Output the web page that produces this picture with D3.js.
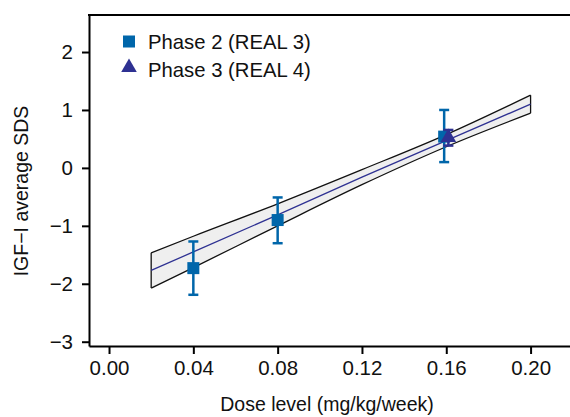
<!DOCTYPE html>
<html lang="en">
<head>
<meta charset="UTF-8">
<script src="https://d3js.org/d3.v7.min.js"></script>
<style>
  body { margin: 0; background: #fff; }
  svg text { font-family: "Liberation Sans", Arial, sans-serif; fill: #111; }
</style>
</head>
<body>
<div id="chart"></div>
<script>
// Phase 2 (REAL 3): dose, mean SDS and error bar ends
const p2Dose = [0.04, 0.08, 0.159];
const p2Mean = [-1.73, -0.90, 0.54];
const p2Low  = [-2.19, -1.30, 0.10];
const p2High = [-1.27, -0.51, 1.00];

// Phase 3 (REAL 4)
const p3Dose = [0.161];
const p3Mean = [0.54];
const p3Low  = [0.385];
const p3High = [0.655];

// fitted line with confidence band
const fitDose  = [0.02, 0.04, 0.08, 0.12, 0.16, 0.20];
const fitMean  = [-1.77, -1.45, -0.81, -0.16, 0.47, 1.10];
const fitUpper = [-1.465, -1.18, -0.62, -0.03, 0.575, 1.255];
const fitLower = [-2.075, -1.72, -1.00, -0.29, 0.365, 0.945];

const xTicks = [0, 0.04, 0.08, 0.12, 0.16, 0.20];
const yTicks = [-3, -2, -1, 0, 1, 2];

const w = 570, h = 417;
const padL = 89, padR = 570, padT = 15, padB = 346;
const blue = '#0066aa', navy = '#2e3192';

const x = d3.scaleLinear().domain([-0.0095, 0.2187]).range([padL, padR]);
const y = d3.scaleLinear().domain([-3.074, 2.639]).range([padB, padT]);

const svg = d3.select('#chart').append('svg')
  .attr('width', w).attr('height', h);

// band
const band = fitDose.map((d, i) => ({ d: d, lo: fitLower[i], hi: fitUpper[i], m: fitMean[i] }));
const curve = d3.curveMonotoneX;
svg.append('path')
  .datum(band)
  .attr('d', d3.area().curve(curve).x(d => x(d.d)).y0(d => y(d.lo)).y1(d => y(d.hi)))
  .attr('fill', '#efefef')
  .attr('stroke', 'none');
svg.append('path')
  .datum(band)
  .attr('d', d3.line().curve(curve).x(d => x(d.d)).y(d => y(d.hi)))
  .attr('fill', 'none').attr('stroke', '#111').attr('stroke-width', 1.3);
svg.append('path')
  .datum(band)
  .attr('d', d3.line().curve(curve).x(d => x(d.d)).y(d => y(d.lo)))
  .attr('fill', 'none').attr('stroke', '#111').attr('stroke-width', 1.3);
// band ends
[0, band.length - 1].forEach(i => {
  svg.append('line')
    .attr('x1', x(band[i].d)).attr('x2', x(band[i].d))
    .attr('y1', y(band[i].lo)).attr('y2', y(band[i].hi))
    .attr('stroke', '#111').attr('stroke-width', 1.3);
});
svg.append('path')
  .datum(band)
  .attr('d', d3.line().x(d => x(d.d)).y(d => y(d.m)))
  .attr('fill', 'none').attr('stroke', navy).attr('stroke-width', 1.3);

// error bars
function errorBars(dose, lo, hi, color) {
  const g = svg.append('g');
  dose.forEach((d, i) => {
    g.append('line')
      .attr('x1', x(d)).attr('x2', x(d))
      .attr('y1', y(lo[i])).attr('y2', y(hi[i]))
      .attr('stroke', color).attr('stroke-width', 2.5);
    [lo[i], hi[i]].forEach(v => {
      g.append('line')
        .attr('x1', x(d) - 5).attr('x2', x(d) + 5)
        .attr('y1', y(v)).attr('y2', y(v))
        .attr('stroke', color).attr('stroke-width', 2.5);
    });
  });
}
errorBars(p2Dose, p2Low, p2High, blue);

svg.append('g').selectAll('rect')
  .data(p2Dose)
  .enter().append('rect')
  .attr('x', d => x(d) - 6)
  .attr('y', (d, i) => y(p2Mean[i]) - 6)
  .attr('width', 12).attr('height', 12)
  .attr('fill', blue);

errorBars(p3Dose, p3Low, p3High, navy);
const tri = d3.symbol().type(d3.symbolTriangle).size(105);
svg.append('g').selectAll('path')
  .data(p3Dose)
  .enter().append('path')
  .attr('d', tri)
  .attr('transform', (d, i) => 'translate(' + x(d) + ',' + (y(p3Mean[i]) + 1) + ')')
  .attr('fill', navy);

// axes
const xAxis = d3.axisBottom(x).tickValues(xTicks).tickFormat(d3.format('.2f'))
  .tickSize(8).tickSizeOuter(0).tickPadding(6);
const gx = svg.append('g')
  .attr('transform', 'translate(0,' + padB + ')')
  .call(xAxis);
gx.select('.domain').attr('stroke-width', 2);
gx.selectAll('.tick line').attr('stroke-width', 2);
gx.selectAll('.tick text').style('font-size', '20.5px');

const yAxis = d3.axisLeft(y).tickValues(yTicks).tickFormat(d3.format('d'))
  .tickSize(7).tickSizeOuter(0).tickPadding(9);
const gy = svg.append('g')
  .attr('transform', 'translate(' + padL + ',0)')
  .call(yAxis);
gy.select('.domain').attr('stroke-width', 2);
gy.selectAll('.tick line').attr('stroke-width', 2);
gy.selectAll('.tick text').style('font-size', '20.5px').text(d => d < 0 ? '\u2212' + Math.abs(d) : d);

svg.append('line')
  .attr('x1', padL - 1).attr('x2', padR)
  .attr('y1', padT).attr('y2', padT)
  .attr('stroke', '#000').attr('stroke-width', 2);

// titles
svg.append('text')
  .text('Dose level (mg/kg/week)')
  .attr('x', 327).attr('y', 411)
  .attr('text-anchor', 'middle')
  .style('font-size', '19.5px');

svg.append('text')
  .text('IGF\u2212I average SDS')
  .attr('transform', 'translate(28,191) rotate(-90)')
  .attr('text-anchor', 'middle')
  .style('font-size', '19.5px');

// legend
const legend = svg.append('g');
legend.append('rect')
  .attr('x', 123).attr('y', 35.5).attr('width', 12).attr('height', 12)
  .attr('fill', blue);
legend.append('path')
  .attr('d', tri)
  .attr('transform', 'translate(129,67.5)')
  .attr('fill', navy);
legend.append('text').text('Phase 2 (REAL 3)')
  .attr('x', 148).attr('y', 49).style('font-size', '20.3px');
legend.append('text').text('Phase 3 (REAL 4)')
  .attr('x', 148).attr('y', 76.5).style('font-size', '20.3px');
</script>
</body>
</html>
